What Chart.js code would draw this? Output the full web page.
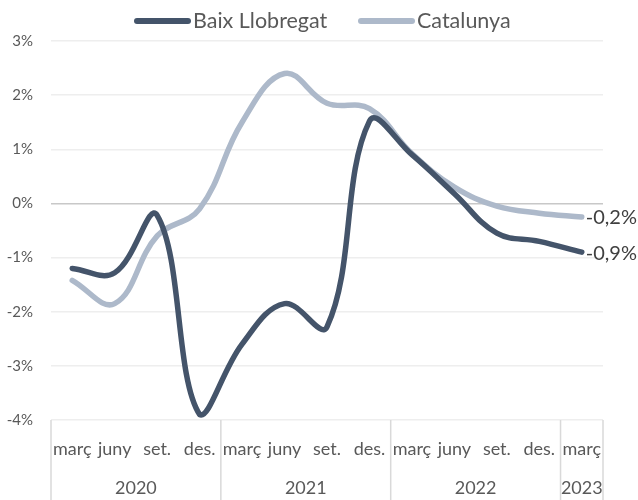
<!DOCTYPE html>
<html><head><meta charset="utf-8">
<script src="https://cdn.jsdelivr.net/npm/chart.js@4.4.0/dist/chart.umd.min.js"></script>
<style>html,body{margin:0;padding:0;background:#fff}#wrap{width:638px;height:500px}</style>
</head><body><div id="wrap"><canvas id="c" width="638" height="500"></canvas></div>
<script>
const quarters = ["març","juny","set.","des.","març","juny","set.","des.","març","juny","set.","des.","març"];
const years = ["2020","2021","2022","2023"];
const yearSpans = [4,4,4,1];
const baix = [-1.2,-1.28,-0.22,-3.9,-2.6,-1.85,-2.28,1.52,0.9,0.18,-0.55,-0.7,-0.9];
const catalunya = [-1.42,-1.85,-0.6,-0.1,1.5,2.4,1.85,1.75,0.92,0.3,-0.05,-0.18,-0.25];
const endLabels = ["-0,9%","-0,2%"];
const yTicks = [-4,-3,-2,-1,0,1,2,3];

const FONT = "Lato, 'Open Sans', sans-serif";

const groupPlugin = {
  id: 'groups',
  afterDraw(chart) {
    const ctx = chart.ctx, x = chart.scales.x, area = chart.chartArea;
    const step = x.getPixelForValue(1) - x.getPixelForValue(0);
    ctx.save();
    ctx.strokeStyle = '#d9d9d9'; ctx.lineWidth = 1.5;
    let idx = 0;
    const bounds = [x.getPixelForValue(0) - step/2];
    yearSpans.forEach(s => { idx += s; bounds.push(x.getPixelForValue(idx - 1) + step/2); });
    bounds.forEach(b => { ctx.beginPath(); ctx.moveTo(b, area.bottom); ctx.lineTo(b, 500); ctx.stroke(); });
    ctx.fillStyle = '#595959'; ctx.font = '18px ' + FONT; ctx.textAlign = 'center'; ctx.textBaseline = 'middle';
    years.forEach((y, i) => { ctx.fillText(y, (bounds[i] + bounds[i+1]) / 2, 488); });
    const ys = chart.scales.y;
    const last = quarters.length - 1;
    ctx.fillStyle = '#404040'; ctx.font = '20px ' + FONT; ctx.textAlign = 'left';
    [baix, catalunya].forEach((arr, k) => {
      ctx.fillText(endLabels[k], x.getPixelForValue(last) + 4, ys.getPixelForValue(arr[last]) + 1);
    });
    // legend
    const items = chart.data.datasets;
    const starts = [137, 361];
    ctx.lineCap = 'round'; ctx.lineWidth = 6;
    ctx.font = '21.5px ' + FONT; ctx.fillStyle = '#595959';
    items.forEach((d, k) => {
      ctx.strokeStyle = d.borderColor;
      ctx.beginPath(); ctx.moveTo(starts[k], 21); ctx.lineTo(starts[k] + 51, 21); ctx.stroke();
      ctx.fillText(d.label, starts[k] + 56, 21);
    });
    ctx.restore();
  }
};

new Chart(document.getElementById('c'), {
  type: 'line',
  data: {
    labels: quarters,
    datasets: [
      { label: 'Baix Llobregat', data: baix, borderColor: '#44546a', backgroundColor: '#44546a', borderWidth: 5.5, tension: 0.4, pointRadius: 0, borderCapStyle: 'round', borderJoinStyle: 'round' },
      { label: 'Catalunya', data: catalunya, borderColor: '#adb9ca', backgroundColor: '#adb9ca', borderWidth: 5.5, tension: 0.4, pointRadius: 0, borderCapStyle: 'round', borderJoinStyle: 'round' }
    ]
  },
  options: {
    responsive: false, animation: false, devicePixelRatio: 1,
    layout: { padding: { left: 0, right: 35, top: 41, bottom: 0 } },
    plugins: {
      legend: { display: false },
      tooltip: { enabled: false }
    },
    scales: {
      x: {
        offset: true,
        grid: { display: false, drawTicks: false },
        border: { display: false },
        ticks: { color: '#595959', font: { size: 18, family: FONT }, maxRotation: 0, autoSkip: false, padding: 18 },
        afterFit(s) { s.height = 80; }
      },
      y: {
        min: -4, max: 3,
        afterBuildTicks(s) { s.ticks = yTicks.map(v => ({ value: v })); },
        grid: { color: c => c.tick && c.tick.value === 0 ? '#c8c8c8' : '#eeeeee', lineWidth: 1.5, drawTicks: false },
        border: { display: false },
        ticks: { color: '#595959', font: { size: 15, family: FONT }, padding: 18, callback: v => v + '%' },
        afterFit(s) { s.width = 51; }
      }
    }
  },
  plugins: [groupPlugin]
});
</script></body></html>
